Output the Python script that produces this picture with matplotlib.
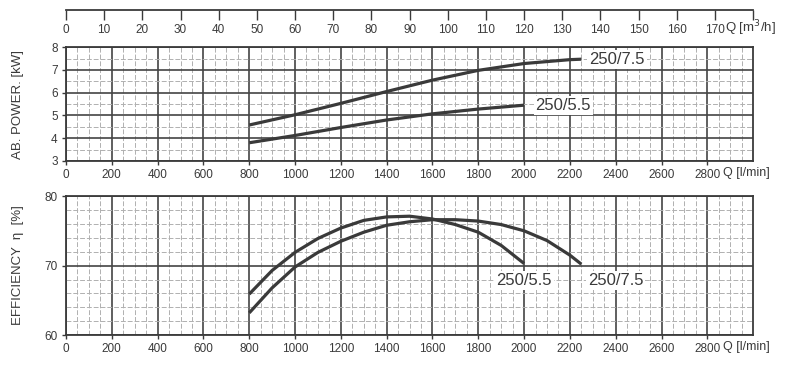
import numpy as np
import matplotlib.pyplot as plt
from matplotlib.ticker import MultipleLocator

plt.rcParams['font.family'] = ['Liberation Sans', 'DejaVu Sans']

# absorbed power [kW] vs Q [l/min]
q_p75 = [800, 1000, 1200, 1400, 1600, 1800, 2000, 2200, 2250]
p_75 = [4.58, 5.03, 5.53, 6.05, 6.55, 6.98, 7.28, 7.45, 7.47]
q_p55 = [800, 1000, 1200, 1400, 1600, 1800, 2000]
p_55 = [3.8, 4.12, 4.47, 4.8, 5.07, 5.28, 5.45]

# efficiency [%] vs Q [l/min]
q_e55 = [800, 900, 1000, 1100, 1200, 1300, 1400, 1500, 1600, 1700, 1800, 1900, 2000]
e_55 = [65.9, 69.3, 71.9, 73.9, 75.4, 76.5, 77.0, 77.1, 76.7, 75.9, 74.8, 72.9, 70.3]
q_e75 = [800, 900, 1000, 1100, 1200, 1300, 1400, 1500, 1600, 1700, 1800, 1900, 2000, 2100, 2200, 2250]
e_75 = [63.2, 66.8, 69.8, 71.9, 73.5, 74.8, 75.8, 76.3, 76.6, 76.6, 76.4, 75.9, 75.0, 73.6, 71.5, 70.2]

q_ticks = [0, 200, 400, 600, 800, 1000, 1200, 1400, 1600, 1800, 2000, 2200, 2400, 2600, 2800]
m3h_ticks = [0, 10, 20, 30, 40, 50, 60, 70, 80, 90, 100, 110, 120, 130, 140, 150, 160, 170]

ink = '#3a3a3a'
fig = plt.figure(figsize=(7.99, 3.77), dpi=100)
ax1 = fig.add_axes([0.0826, 0.573, 0.860, 0.302])
ax2 = fig.add_axes([0.0826, 0.111, 0.860, 0.369])


def style(ax, ymin, ymax, ymaj, ymin_step):
    ax.set_xlim(0, 3000)
    ax.set_ylim(ymin, ymax)
    ax.xaxis.set_major_locator(MultipleLocator(200))
    ax.xaxis.set_minor_locator(MultipleLocator(50))
    ax.yaxis.set_major_locator(MultipleLocator(ymaj))
    ax.yaxis.set_minor_locator(MultipleLocator(ymin_step))
    ax.set_xticks(q_ticks)
    ax.set_xticklabels([str(t) for t in q_ticks])
    ax.grid(which='major', color='#444444', lw=1.2)
    ax.grid(which='minor', color='#b0b0b0', lw=0.7, ls=(0, (5, 2)))
    ax.tick_params(which='major', direction='out', length=3, width=1, colors=ink,
                   labelsize=8.5, pad=3)
    ax.tick_params(which='minor', length=0)
    for s in ax.spines.values():
        s.set_color(ink)
        s.set_linewidth(1.3)
    ax.set_axisbelow(True)
    ax.text(2870, ymin, 'Q [l/min]', fontsize=9, ha='left', va='top', color=ink,
            transform=ax.transData + plt.matplotlib.transforms.ScaledTranslation(0, -6 / 100, fig.dpi_scale_trans))


style(ax1, 3, 8, 1, 0.5)
style(ax2, 60, 80, 10, 2)
ax2.set_yticks([60, 70, 80])

lw = 2.3
ax1.plot(q_p75, p_75, color=ink, lw=lw, solid_capstyle='butt')
ax1.plot(q_p55, p_55, color=ink, lw=lw, solid_capstyle='butt')
ax2.plot(q_e55, e_55, color=ink, lw=lw, solid_capstyle='butt')
ax2.plot(q_e75, e_75, color=ink, lw=lw, solid_capstyle='butt')

box = dict(facecolor='white', edgecolor='none', pad=1.5)
ax1.text(2285, p_75[-1], '250/7.5', fontsize=12, ha='left', va='center', color=ink, bbox=box)
ax1.text(2050, p_55[-1], '250/5.5', fontsize=12, ha='left', va='center', color=ink, bbox=box)
ax2.text(2000, 67.8, '250/5.5', fontsize=12, ha='center', va='center', color=ink, bbox=box)
ax2.text(2400, 67.8, '250/7.5', fontsize=12, ha='center', va='center', color=ink, bbox=box)

# secondary flow scale in m3/h on top
ax0 = fig.add_axes([0.0826, 0.9735, 0.860, 0.0001])
ax0.set_xlim(0, 180)
ax0.set_ylim(0, 1)
ax0.set_xticks(m3h_ticks + [180])
ax0.set_xticklabels([str(t) for t in m3h_ticks] + [''])
ax0.set_yticks([])
for k in ['top', 'left', 'right']:
    ax0.spines[k].set_visible(False)
ax0.spines['bottom'].set_color(ink)
ax0.spines['bottom'].set_linewidth(1.3)
ax0.tick_params(direction='out', length=7, width=1, colors=ink, labelsize=8.5, pad=3)
ax0.patch.set_visible(False)
fig.text(0.908, 0.925, 'Q [m$^3$/h]', fontsize=9.5, ha='left', va='center', color=ink)

fig.text(0.022, 0.724, 'AB. POWER. [kW]', rotation=90, fontsize=9.5, ha='center', va='center', color=ink)
fig.text(0.022, 0.296, 'EFFICIENCY  η  [%]', rotation=90, fontsize=9.5, ha='center', va='center', color=ink)

fig.savefig('out.png', dpi=100)
plt.close()
